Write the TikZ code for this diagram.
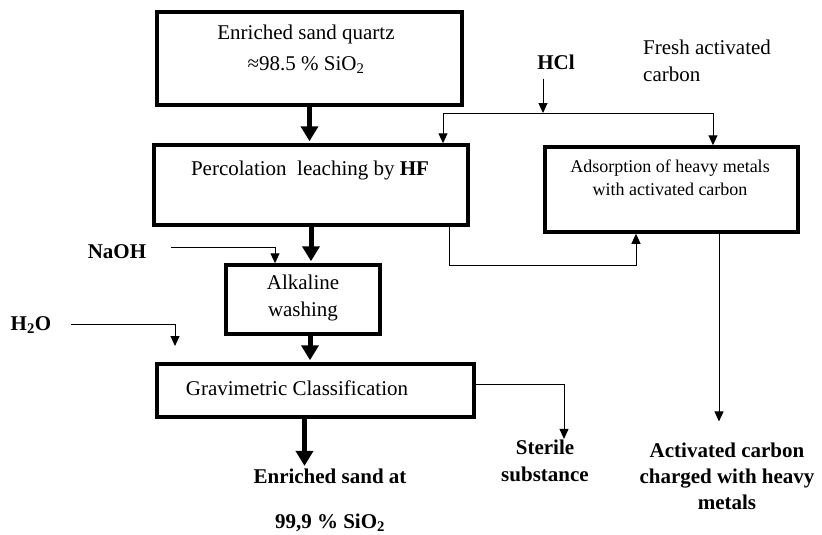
\documentclass[tikz,border=0pt]{standalone}
\usepackage{fontspec}
\setmainfont{Liberation Serif}
\usetikzlibrary{arrows.meta,calc}

\tikzset{
  procbox/.style={draw,line width=3.5pt,fill=white,rectangle,inner sep=0pt},
  boxtext/.style={font=\fontsize{21}{31}\selectfont,align=center,inner sep=1pt},
  sidetext/.style={font=\bfseries\fontsize{21}{27}\selectfont,align=center,inner sep=1pt},
  mainflow/.style={line width=5pt,shorten >=2pt,-{Triangle[width=17pt,length=15pt]}},
  feedflow/.style={line width=1pt,-{Triangle[width=9pt,length=10pt]}},
}

\begin{document}
\begin{tikzpicture}[x=1pt,y=-1pt]
\useasboundingbox (0,0) rectangle (822,535);

\begin{scope}[every node/.style={procbox}]
	%Process boxes
	\node[minimum width=305pt,minimum height=93pt] (quartz) at (309.5,58.5) {};
	\node[minimum width=314pt,minimum height=80pt] (leach) at (311,185) {};
	\node[minimum width=154pt,minimum height=69pt] (wash) at (303,299.5) {};
	\node[minimum width=317pt,minimum height=53pt] (classif) at (315.5,390.5) {};
	\node[minimum width=253pt,minimum height=85pt] (adsorb) at (671.5,189.5) {};
\end{scope}

%Box texts
\node[boxtext] (quartztext) at (306,49) {Enriched sand quartz\\≈98.5 \% SiO\textsubscript{2}};
\node[boxtext] (leachtext) at (310,170) {Percolation\ \ leaching by \textbf{HF}};
\node[boxtext,font=\fontsize{21}{27}\selectfont] (washtext) at (303,298) {Alkaline\\washing};
\node[boxtext] (classiftext) at (297,388) {Gravimetric Classification};
\node[boxtext,font=\fontsize{18}{23}\selectfont] (adsorbtext) at (670,178) {Adsorption of heavy metals\\with activated carbon};
\node[boxtext,font=\fontsize{21}{27}\selectfont,align=left,anchor=west] (fresh) at (642,61) {Fresh activated\\carbon};

%Inputs and products
\node[sidetext] (hcl) at (556,62) {HCl};
\node[sidetext] (naoh) at (117,252) {NaOH};
\node[sidetext] (water) at (31,325) {H\textsubscript{2}O};
\node[sidetext,font=\bfseries\fontsize{21}{45}\selectfont] (sand) at (330,500.5) {Enriched sand at\\99,9 \% SiO\textsubscript{2}};
\node[sidetext] (sterile) at (545,461) {Sterile\\substance};
\node[sidetext,font=\bfseries\fontsize{21}{26}\selectfont] (carbon) at (727,476) {Activated carbon\\charged with heavy\\metals};

\coordinate (waterend) at (175,346);
\coordinate (hcljoin) at (543,113);
\coordinate (hclleft) at (443,113);
\coordinate (hclright) at (713,113);
\coordinate (bypass) at (636,265);

%Main line
\draw[mainflow] (quartz.south) -- (quartz.south |- leach.north);
\draw[mainflow] (leach.south) -- (leach.south |- wash.north);
\draw[mainflow] ($(wash.south)+(7,0)$) -- ($(wash.south |- classif.north)+(7,0)$);
\draw[mainflow] ($(classif.south)+(-11,0)$) -- ($(classif.south |- sand.north)+(-11,0)$);

%Reagents
\draw[feedflow] ($(naoh.east)+(24,-5)$) -| ($(wash.north)+(-28,0)$);
\draw[feedflow] ($(water.east)+(19,-1)$) -| (waterend);
\draw[feedflow] ($(hcljoin |- hcl.south)+(0,8)$) -- (hcljoin);
\draw[line width=1pt] (hclleft) -- (hclright);
\draw[feedflow] (hclleft) -- (hclleft |- leach.north);
\draw[feedflow] (hclright) -- (hclright |- adsorb.north);

%Outlets
\draw[feedflow] ($(leach.south)+(138,0)$) |- (bypass) -- (bypass |- adsorb.south);
\draw[feedflow] ($(classif.east)+(0,-6)$) -| ($(sterile.north)+(19,0)$);
\draw[feedflow,shorten >=20pt] ($(adsorb.south)+(47.5,0)$) -- ($(adsorb.south |- carbon.north)+(47.5,0)$);

\end{tikzpicture}
\end{document}
